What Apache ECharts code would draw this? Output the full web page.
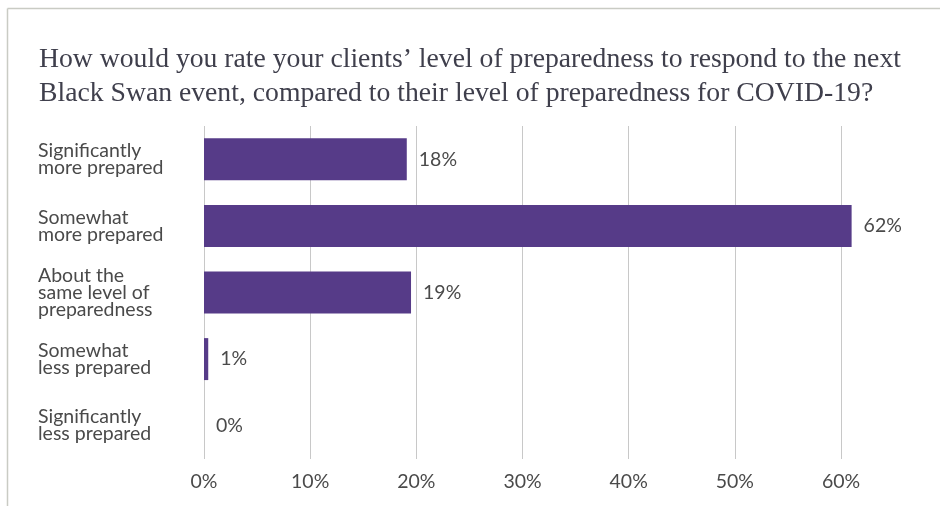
<!DOCTYPE html>
<html>
<head>
<meta charset="utf-8">
<script src="https://cdn.jsdelivr.net/npm/echarts@6/dist/echarts.min.js"></script>
<style>html,body{margin:0;padding:0;background:#fff}#c{width:940px;height:506px}</style>
</head>
<body>
<div id="c"></div>
<script>
const titleText = "How would you rate your clients’ level of preparedness to respond to the next\nBlack Swan event, compared to their level of preparedness for COVID-19?";
const categories = [
  "Significantly\nmore prepared",
  "Somewhat\nmore prepared",
  "About the\nsame level of\npreparedness",
  "Somewhat\nless prepared",
  "Significantly\nless prepared"
];
const values = [0.191, 0.610, 0.195, 0.004, 0];
const valueLabels = ["18%", "62%", "19%", "1%", "0%"];
const xTicks = [0, 0.1, 0.2, 0.3, 0.4, 0.5, 0.6];

const chart = echarts.init(document.getElementById('c'), null, {renderer: 'canvas'});
chart.setOption({
  animation: false,
  backgroundColor: '#fff',
  title: {
    text: titleText,
    left: 34, top: 38,
    textStyle: {fontFamily: 'Liberation Serif', fontWeight: 'normal', fontSize: 27.7, color: '#3f3f4c', lineHeight: 34}
  },
  graphic: [
    {type: 'line', shape: {x1: 7.5, y1: 8.5, x2: 940, y2: 8.5}, style: {stroke: '#c9cbc4', lineWidth: 1.5}},
    {type: 'line', shape: {x1: 7.5, y1: 8.5, x2: 7.5, y2: 506}, style: {stroke: '#c9cbc4', lineWidth: 1.5}}
  ],
  grid: {left: 204, right: 99, top: 126, bottom: 47, containLabel: false},
  xAxis: {
    type: 'value', min: xTicks[0], max: xTicks[xTicks.length - 1], interval: 0.1,
    axisLine: {show: false}, axisTick: {show: false},
    splitLine: {show: true, lineStyle: {color: '#c8c8c8', width: 1}},
    axisLabel: {
      margin: 13, fontFamily: 'Lato', fontSize: 19.5, color: '#4a4a4a',
      formatter: v => Math.round(v * 100) + '%'
    }
  },
  yAxis: {
    type: 'category', data: categories, inverse: true,
    axisLine: {show: false}, axisTick: {show: false},
    axisLabel: {align: 'left', margin: 166, fontFamily: 'Lato', fontSize: 19.5, color: '#4a4a4a', lineHeight: 17, padding: [5, 0, 0, 0]}
  },
  series: [{
    type: 'bar', data: values, clip: false,
    barCategoryGap: '37%',
    itemStyle: {color: '#563b88'},
    label: {
      show: true, position: 'right', distance: 12,
      fontFamily: 'Lato', fontSize: 19.5, color: '#4a4a4a',
      formatter: p => valueLabels[p.dataIndex]
    }
  }]
});
</script>
</body>
</html>
